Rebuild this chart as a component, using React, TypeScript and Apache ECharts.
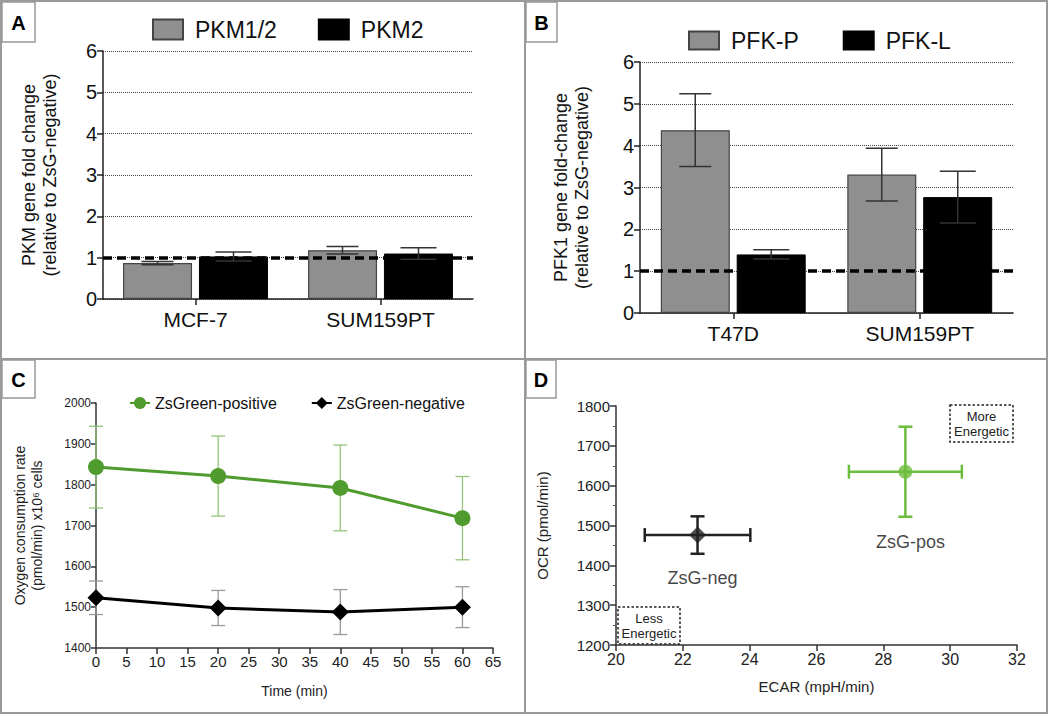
import React, { useEffect, useRef } from "react";
import * as echarts from "echarts";

// ---------- DATA ----------
const catsA = ["MCF-7", "SUM159PT"];
const pkm12 = [0.87, 1.18];
const pkm12Err = [0.04, 0.09];
const pkm2 = [1.03, 1.1];
const pkm2Err = [0.11, 0.14];

const catsB = ["T47D", "SUM159PT"];
const pfkP = [4.37, 3.31];
const pfkPErr = [0.87, 0.63];
const pfkL = [1.4, 2.77];
const pfkLErr = [0.11, 0.62];

const timesC = [0, 20, 40, 60];
const ocrPos = [1843, 1821, 1792, 1718];
const ocrPosErr = [100, 98, 105, 102];
const ocrNeg = [1523, 1498, 1488, 1500];
const ocrNegErr = [41, 43, 55, 50];

const ecarNeg = [22.44];
const ocrNegD = [1476];
const ecarNegErr = [1.58];
const ocrNegDErr = [47];
const ecarPos = [28.66];
const ocrPosD = [1635];
const ecarPosErr = [1.69];
const ocrPosDErr = [113];

const yTicksAB = [0, 1, 2, 3, 4, 5, 6];

const FONT = "Liberation Sans, Arial, Helvetica, sans-serif";
const GREEN = "#4f9b2d";
const GREEN_LIGHT = "#94c57a";
const GREEN_D = "#6cbd3c";

const plain = (v: number) => String(v);

function barErr(offset: number, color: string, half: number) {
  return (params: any, api: any) => {
    const i = api.value(0);
    const v = api.value(1);
    const e = api.value(2);
    const hi = api.coord([i, v + e]);
    const lo = api.coord([i, v - e]);
    const x = hi[0] + offset;
    const st = { stroke: color, lineWidth: 1.5 };
    return {
      type: "group",
      children: [
        { type: "line", shape: { x1: x, y1: hi[1], x2: x, y2: lo[1] }, style: st },
        { type: "line", shape: { x1: x - half, y1: hi[1], x2: x + half, y2: hi[1] }, style: st },
        { type: "line", shape: { x1: x - half, y1: lo[1], x2: x + half, y2: lo[1] }, style: st },
      ],
    };
  };
}

function vErr(color: string, half: number, lw: number) {
  return (params: any, api: any) => {
    const x = api.value(0);
    const v = api.value(1);
    const e = api.value(2);
    const hi = api.coord([x, v + e]);
    const lo = api.coord([x, v - e]);
    const st = { stroke: color, lineWidth: lw };
    return {
      type: "group",
      children: [
        { type: "line", shape: { x1: hi[0], y1: hi[1], x2: lo[0], y2: lo[1] }, style: st },
        { type: "line", shape: { x1: hi[0] - half, y1: hi[1], x2: hi[0] + half, y2: hi[1] }, style: st },
        { type: "line", shape: { x1: lo[0] - half, y1: lo[1], x2: lo[0] + half, y2: lo[1] }, style: st },
      ],
    };
  };
}

function xyErr(color: string, half: number, lw: number) {
  return (params: any, api: any) => {
    const x = api.value(0);
    const y = api.value(1);
    const ex = api.value(2);
    const ey = api.value(3);
    const t = api.coord([x, y + ey]);
    const b = api.coord([x, y - ey]);
    const l = api.coord([x - ex, y]);
    const r = api.coord([x + ex, y]);
    const st = { stroke: color, lineWidth: lw };
    return {
      type: "group",
      children: [
        { type: "line", shape: { x1: t[0], y1: t[1], x2: b[0], y2: b[1] }, style: st },
        { type: "line", shape: { x1: l[0], y1: l[1], x2: r[0], y2: r[1] }, style: st },
        { type: "line", shape: { x1: t[0] - half, y1: t[1], x2: t[0] + half, y2: t[1] }, style: st },
        { type: "line", shape: { x1: b[0] - half, y1: b[1], x2: b[0] + half, y2: b[1] }, style: st },
        { type: "line", shape: { x1: l[0], y1: l[1] - half, x2: l[0], y2: l[1] + half }, style: st },
        { type: "line", shape: { x1: r[0], y1: r[1] - half, x2: r[0], y2: r[1] + half }, style: st },
      ],
    };
  };
}

function barYAxis(gridIndex: number, name: string, gap: number) {
  return {
    gridIndex,
    type: "value",
    min: yTicksAB[0],
    max: yTicksAB[yTicksAB.length - 1],
    interval: 1,
    name,
    nameLocation: "middle",
    nameRotate: 90,
    nameGap: gap,
    nameTextStyle: { fontSize: 18, fontFamily: FONT, color: "#111", lineHeight: 21 },
    axisLine: { show: true, lineStyle: { color: "#222", width: 1.5 } },
    axisTick: { show: true, length: 6, lineStyle: { color: "#222", width: 1.5 } },
    axisLabel: { fontSize: 20, fontFamily: FONT, color: "#111", margin: 6, formatter: plain },
    splitLine: { show: true, lineStyle: { type: "dotted", color: "#444", width: 1 } },
  };
}

function barXAxis(gridIndex: number, cats: string[]) {
  return {
    gridIndex,
    type: "category",
    data: cats,
    axisLine: { show: true, lineStyle: { color: "#222", width: 1.5 } },
    axisTick: { show: true, alignWithLabel: true, length: 6, lineStyle: { color: "#222", width: 1.5 } },
    axisLabel: { fontSize: 21, fontFamily: FONT, color: "#111", margin: 10 },
    splitLine: { show: false },
  };
}

const grayBar = { color: "#8f8f8f", borderColor: "#444", borderWidth: 1.2 };
const blackBar = { color: "#000", borderColor: "#000", borderWidth: 1 };

const refLine = {
  silent: true,
  symbol: "none",
  label: { show: false },
  lineStyle: { color: "#000", type: [9, 5], width: 3.5 },
  data: [{ yAxis: 1 }],
};

function letterBox(x: number, y: number, w: number, h: number, letter: string) {
  return {
    type: "group",
    children: [
      { type: "rect", shape: { x, y, width: w, height: h }, style: { fill: "#fff", stroke: "#999", lineWidth: 1.5 } },
      {
        type: "text",
        x: x + w / 2,
        y: y + h / 2 + 1,
        style: { text: letter, fontSize: 20, fontWeight: "bold", fontFamily: FONT, fill: "#000", align: "center", verticalAlign: "middle" },
      },
    ],
  };
}

function dashBox(x: number, y: number, w: number, h: number, text: string) {
  return {
    type: "group",
    children: [
      { type: "rect", shape: { x, y, width: w, height: h }, style: { fill: "none", stroke: "#222", lineWidth: 1.5, lineDash: [2.5, 2] } },
      {
        type: "text",
        x: x + w / 2,
        y: y + h / 2,
        style: { text, fontSize: 13, fontFamily: FONT, fill: "#222", align: "center", verticalAlign: "middle", lineHeight: 15 },
      },
    ],
  };
}

export default function App() {
  const ref = useRef<HTMLDivElement>(null);
  useEffect(() => {
    if (!ref.current) return;
    const chart = echarts.init(ref.current, undefined, { renderer: "svg" });
    const option: any = {
      animation: false,
      backgroundColor: "#fff",
      textStyle: { fontFamily: FONT },
      grid: [
        { left: 103, top: 51, width: 370, height: 248 },
        { left: 640, top: 62, width: 373, height: 251 },
        { left: 96, top: 403, width: 397, height: 245 },
        { left: 616, top: 406, width: 401, height: 239 },
      ],
      legend: [
        {
          data: ["PKM1/2", "PKM2"],
          left: 152,
          top: 18,
          padding: 0,
          icon: "rect",
          itemWidth: 30,
          itemHeight: 20,
          itemGap: 41,
          textStyle: { fontSize: 23, fontFamily: FONT, color: "#111", padding: [0, 0, 0, 7] },
          selectedMode: false,
        },
        {
          data: ["PFK-P", "PFK-L"],
          left: 688,
          top: 29,
          padding: 0,
          icon: "rect",
          itemWidth: 30,
          itemHeight: 18,
          itemGap: 44,
          textStyle: { fontSize: 23, fontFamily: FONT, color: "#111", padding: [0, 0, 0, 7] },
          selectedMode: false,
        },
        {
          data: ["ZsGreen-positive", "ZsGreen-negative"],
          left: 129,
          top: 395,
          padding: 0,
          itemWidth: 20,
          itemHeight: 15,
          itemGap: 34,
          textStyle: { fontSize: 16, fontFamily: FONT, color: "#111" },
          selectedMode: false,
        },
      ],
      xAxis: [
        barXAxis(0, catsA),
        barXAxis(1, catsB),
        {
          gridIndex: 2,
          type: "value",
          min: 0,
          max: 65,
          interval: 5,
          name: "Time (min)",
          nameLocation: "middle",
          nameGap: 36,
          nameTextStyle: { fontSize: 14, fontFamily: FONT, color: "#222" },
          axisLine: { show: true, onZero: false, lineStyle: { color: "#333", width: 1.5 } },
          axisTick: { show: true, length: 6, lineStyle: { color: "#333", width: 1.5 } },
          axisLabel: { fontSize: 15, fontFamily: FONT, color: "#222", margin: 6, formatter: plain },
          splitLine: { show: false },
        },
        {
          gridIndex: 3,
          type: "value",
          min: 20,
          max: 32,
          interval: 2,
          name: "ECAR (mpH/min)",
          nameLocation: "middle",
          nameGap: 34,
          nameTextStyle: { fontSize: 15, fontFamily: FONT, color: "#222" },
          axisLine: { show: true, onZero: false, lineStyle: { color: "#333", width: 1.5 } },
          axisTick: { show: true, length: 6, lineStyle: { color: "#333", width: 1.5 } },
          axisLabel: { fontSize: 16, fontFamily: FONT, color: "#222", margin: 6, formatter: plain },
          splitLine: { show: false },
        },
      ],
      yAxis: [
        barYAxis(0, "PKM gene fold change\n(relative to ZsG-negative)", 43),
        barYAxis(1, "PFK1 gene fold-change\n(relative to ZsG-negative)", 48),
        {
          gridIndex: 2,
          type: "value",
          min: 1400,
          max: 2000,
          interval: 100,
          name: "Oxygen consumption rate\n(pmol/min) x10⁶ cells",
          nameLocation: "middle",
          nameRotate: 90,
          nameGap: 51,
          nameTextStyle: { fontSize: 14, fontFamily: FONT, color: "#222", lineHeight: 17 },
          axisLine: { show: true, onZero: false, lineStyle: { color: "#333", width: 1.5 } },
          axisTick: { show: true, length: 5, lineStyle: { color: "#333", width: 1.5 } },
          axisLabel: { fontSize: 12, fontFamily: FONT, color: "#222", margin: 5, formatter: plain },
          splitLine: { show: false },
        },
        {
          gridIndex: 3,
          type: "value",
          min: 1200,
          max: 1800,
          interval: 100,
          name: "OCR (pmol/min)",
          nameLocation: "middle",
          nameRotate: 90,
          nameGap: 66,
          nameTextStyle: { fontSize: 15, fontFamily: FONT, color: "#222" },
          axisLine: { show: true, onZero: false, lineStyle: { color: "#333", width: 1.5 } },
          axisTick: { show: true, length: 6, lineStyle: { color: "#333", width: 1.5 } },
          minorTick: { show: true, splitNumber: 2, length: 3, lineStyle: { color: "#555", width: 1 } },
          axisLabel: { fontSize: 15, fontFamily: FONT, color: "#222", margin: 6, formatter: plain },
          splitLine: { show: false },
        },
      ],
      series: [
        // Panel A
        {
          name: "PKM1/2",
          type: "bar",
          xAxisIndex: 0,
          yAxisIndex: 0,
          data: pkm12,
          barWidth: 69,
          barGap: "10%",
          itemStyle: grayBar,
        },
        {
          name: "PKM2",
          type: "bar",
          xAxisIndex: 0,
          yAxisIndex: 0,
          data: pkm2,
          barWidth: 69,
          barGap: "10%",
          itemStyle: blackBar,
        },
        {
          name: "errA1",
          type: "custom",
          xAxisIndex: 0,
          yAxisIndex: 0,
          z: 5,
          encode: { x: 0, y: 1 },
          renderItem: barErr(-38, "#333", 16),
          data: pkm12.map((v, i) => [i, v, pkm12Err[i]]),
        },
        {
          name: "errA2",
          type: "custom",
          xAxisIndex: 0,
          yAxisIndex: 0,
          z: 5,
          encode: { x: 0, y: 1 },
          renderItem: barErr(38, "#333", 18),
          data: pkm2.map((v, i) => [i, v, pkm2Err[i]]),
          markLine: refLine,
        },
        // Panel B
        {
          name: "PFK-P",
          type: "bar",
          xAxisIndex: 1,
          yAxisIndex: 1,
          data: pfkP,
          barWidth: 69,
          barGap: "10%",
          itemStyle: grayBar,
        },
        {
          name: "PFK-L",
          type: "bar",
          xAxisIndex: 1,
          yAxisIndex: 1,
          data: pfkL,
          barWidth: 69,
          barGap: "10%",
          itemStyle: blackBar,
        },
        {
          name: "errB1",
          type: "custom",
          xAxisIndex: 1,
          yAxisIndex: 1,
          z: 5,
          encode: { x: 0, y: 1 },
          renderItem: barErr(-38, "#333", 16),
          data: pfkP.map((v, i) => [i, v, pfkPErr[i]]),
        },
        {
          name: "errB2",
          type: "custom",
          xAxisIndex: 1,
          yAxisIndex: 1,
          z: 5,
          encode: { x: 0, y: 1 },
          renderItem: barErr(38, "#333", 18),
          data: pfkL.map((v, i) => [i, v, pfkLErr[i]]),
          markLine: refLine,
        },
        // Panel C
        {
          name: "errC1",
          type: "custom",
          xAxisIndex: 2,
          yAxisIndex: 2,
          z: 1,
          encode: { x: 0, y: 1 },
          renderItem: vErr(GREEN_LIGHT, 7, 1.3),
          data: timesC.map((t, i) => [t, ocrPos[i], ocrPosErr[i]]),
        },
        {
          name: "errC2",
          type: "custom",
          xAxisIndex: 2,
          yAxisIndex: 2,
          z: 1,
          encode: { x: 0, y: 1 },
          renderItem: vErr("#9a9a9a", 7, 1.3),
          data: timesC.map((t, i) => [t, ocrNeg[i], ocrNegErr[i]]),
        },
        {
          name: "ZsGreen-positive",
          type: "line",
          xAxisIndex: 2,
          yAxisIndex: 2,
          z: 3,
          data: timesC.map((t, i) => [t, ocrPos[i]]),
          symbol: "circle",
          symbolSize: 16,
          color: GREEN,
          lineStyle: { color: GREEN, width: 3 },
          itemStyle: { color: GREEN },
        },
        {
          name: "ZsGreen-negative",
          type: "line",
          xAxisIndex: 2,
          yAxisIndex: 2,
          z: 3,
          data: timesC.map((t, i) => [t, ocrNeg[i]]),
          symbol: "diamond",
          symbolSize: 17,
          color: "#000",
          lineStyle: { color: "#000", width: 3 },
          itemStyle: { color: "#000" },
        },
        // Panel D
        {
          name: "errD1",
          type: "custom",
          xAxisIndex: 3,
          yAxisIndex: 3,
          z: 1,
          encode: { x: 0, y: 1 },
          renderItem: xyErr("#222", 7, 2.5),
          data: ecarNeg.map((v, i) => [v, ocrNegD[i], ecarNegErr[i], ocrNegDErr[i]]),
        },
        {
          name: "errD2",
          type: "custom",
          xAxisIndex: 3,
          yAxisIndex: 3,
          z: 1,
          encode: { x: 0, y: 1 },
          renderItem: xyErr(GREEN_D, 7, 2.5),
          data: ecarPos.map((v, i) => [v, ocrPosD[i], ecarPosErr[i], ocrPosDErr[i]]),
        },
        {
          name: "ZsG-neg",
          type: "scatter",
          xAxisIndex: 3,
          yAxisIndex: 3,
          z: 3,
          symbol: "diamond",
          symbolSize: 17,
          itemStyle: { color: "#222" },
          data: ecarNeg.map((v, i) => [v, ocrNegD[i]]),
          label: {
            show: true,
            formatter: "ZsG-neg",
            position: "inside",
            offset: [5, 43],
            fontSize: 18,
            fontFamily: FONT,
            color: "#111",
          },
        },
        {
          name: "ZsG-pos",
          type: "scatter",
          xAxisIndex: 3,
          yAxisIndex: 3,
          z: 3,
          symbol: "circle",
          symbolSize: 14,
          itemStyle: { color: GREEN_D },
          data: ecarPos.map((v, i) => [v, ocrPosD[i]]),
          label: {
            show: true,
            formatter: "ZsG-pos",
            position: "inside",
            offset: [5, 70],
            fontSize: 18,
            fontFamily: FONT,
            color: "#111",
          },
        },
      ],
      graphic: [
        { type: "rect", silent: true, shape: { x: 1, y: 1, width: 1046, height: 712 }, style: { fill: "none", stroke: "#9a9a9a", lineWidth: 2 } },
        { type: "line", silent: true, shape: { x1: 525, y1: 1, x2: 525, y2: 713 }, style: { stroke: "#9a9a9a", lineWidth: 2 } },
        { type: "line", silent: true, shape: { x1: 1, y1: 359, x2: 1047, y2: 359 }, style: { stroke: "#9a9a9a", lineWidth: 2 } },
        letterBox(2, 2, 33, 40, "A"),
        letterBox(526, 2, 31, 40, "B"),
        letterBox(2, 360, 33, 38, "C"),
        letterBox(526, 360, 30, 38, "D"),
        dashBox(950, 405, 63, 37, "More\nEnergetic"),
        dashBox(618, 607, 62, 37, "Less\nEnergetic"),
      ],
    };
    chart.setOption(option);
    return () => chart.dispose();
  }, []);
  return (
    <div
      ref={ref}
      style={{ position: "fixed", left: 0, top: 0, width: 1050, height: 717, background: "#fff" }}
    />
  );
}
